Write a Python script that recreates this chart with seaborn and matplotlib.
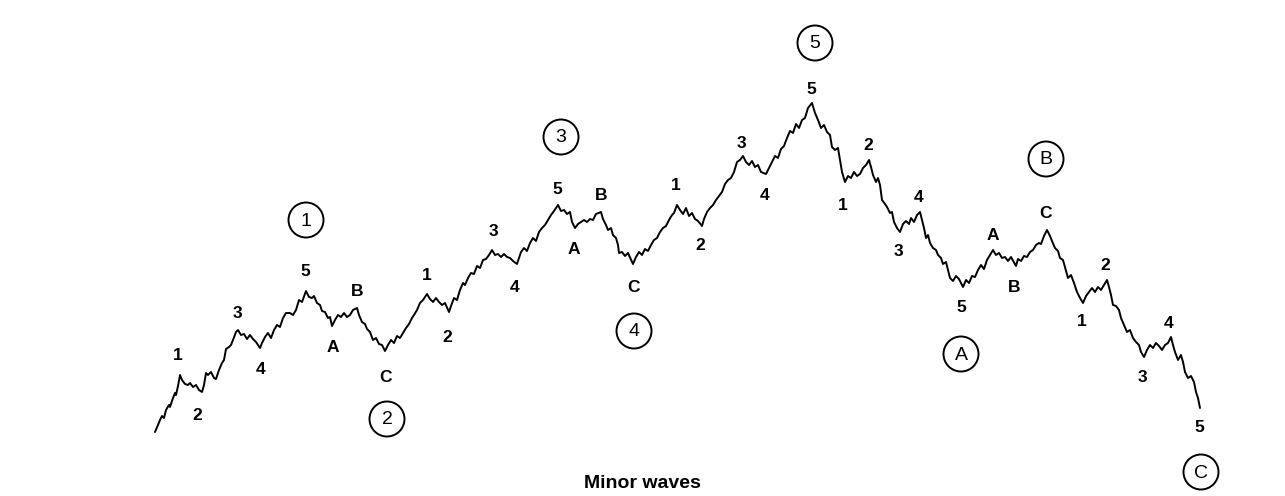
import pandas as pd
import matplotlib.pyplot as plt
import matplotlib.patches as mpatches
import seaborn as sns

# wave path (x right, y down like the picture)
wave_1 = [(155, 432), (158, 425), (160, 420), (162, 416), (164, 418), (166, 410), (169, 405), (170, 407),
          (173, 398), (175, 393), (176, 395), (178, 386), (180, 375),
          (182, 380), (185, 384), (188, 385), (190, 383), (193, 387), (196, 385), (199, 390), (202, 392),
          (204, 385), (206, 373), (208, 375), (211, 372), (214, 378), (216, 379), (219, 370), (222, 363),
          (224, 360), (226, 349), (229, 347), (231, 345), (233, 340), (236, 332), (238, 330),
          (241, 335), (244, 334), (247, 339), (250, 335), (253, 339), (256, 342), (260, 348),
          (262, 343), (265, 337), (268, 333), (271, 338), (274, 330), (277, 325), (280, 327), (283, 318),
          (286, 313), (290, 313), (293, 315), (296, 310), (299, 300), (302, 302), (306, 291)]
wave_2 = [(309, 297), (312, 298), (314, 296), (317, 303), (320, 305), (322, 311), (325, 312), (328, 318),
          (330, 317), (332, 326),
          (335, 320), (338, 315), (341, 317), (344, 313), (347, 317), (350, 315), (353, 310), (357, 308),
          (359, 315), (362, 322), (365, 324), (367, 329), (370, 332), (373, 340), (376, 338), (379, 344),
          (382, 345), (385, 351)]
wave_3 = [(388, 345), (391, 340), (394, 343), (397, 336), (400, 338), (403, 333), (406, 328), (409, 324),
          (412, 318), (414, 315), (417, 310), (420, 303), (423, 300), (427, 294),
          (430, 299), (433, 302), (436, 298), (439, 302), (442, 305), (445, 303), (449, 312),
          (451, 306), (454, 298), (457, 300), (460, 290), (463, 283), (465, 285), (468, 278), (471, 273),
          (474, 274), (477, 266), (480, 268), (483, 260), (486, 259), (489, 255), (492, 250),
          (495, 255), (498, 254), (501, 257), (504, 254), (507, 257), (510, 258), (513, 261), (517, 264),
          (519, 258), (521, 252), (524, 248), (527, 251), (530, 243), (533, 238), (536, 241), (539, 232),
          (542, 228), (545, 225), (548, 220), (551, 215), (554, 211), (558, 205)]
wave_4 = [(561, 211), (564, 210), (567, 214), (570, 212), (572, 222), (575, 228),
          (578, 224), (581, 222), (584, 220), (587, 222), (590, 219), (593, 220), (596, 214), (601, 212),
          (603, 219), (606, 225), (608, 230), (611, 228), (613, 235), (616, 238), (618, 245), (619, 253),
          (622, 252), (625, 256), (628, 253), (633, 264)]
wave_5 = [(636, 257), (639, 252), (642, 255), (645, 249), (648, 251), (651, 245), (654, 240), (657, 238),
          (660, 232), (663, 228), (666, 226), (669, 220), (672, 215), (674, 213), (677, 205),
          (680, 210), (683, 214), (686, 208), (689, 216), (692, 213), (695, 219), (698, 221), (702, 226),
          (704, 219), (707, 212), (710, 208), (713, 205), (716, 200), (719, 196), (722, 192), (725, 184),
          (728, 180), (731, 178), (734, 172), (737, 162), (740, 160), (743, 156),
          (746, 162), (749, 165), (752, 161), (755, 167), (758, 165), (761, 172), (766, 174),
          (769, 168), (772, 162), (775, 156), (778, 158), (781, 149), (784, 146), (787, 138), (790, 131),
          (793, 133), (796, 124), (799, 128), (802, 120), (805, 118), (808, 108), (812, 103)]
wave_a = [(815, 113), (818, 120), (821, 128), (824, 125), (827, 132), (830, 135), (832, 147), (835, 150),
          (838, 148), (840, 160), (842, 172), (845, 182),
          (848, 176), (851, 178), (854, 172), (857, 176), (860, 174), (863, 168), (866, 165), (869, 160),
          (871, 167), (873, 175), (876, 182), (878, 178), (880, 185), (882, 200), (885, 204), (887, 207),
          (890, 213), (892, 212), (894, 222), (897, 228), (900, 232),
          (903, 224), (906, 221), (909, 224), (911, 218), (914, 222), (917, 215), (920, 212),
          (922, 220), (924, 228), (926, 238), (928, 235), (930, 243), (933, 248), (936, 250), (938, 255),
          (941, 258), (943, 264), (946, 262), (948, 270), (950, 278), (953, 281), (956, 276), (959, 279),
          (963, 287)]
wave_b = [(966, 280), (969, 283), (972, 276), (975, 277), (978, 270), (981, 265), (984, 269), (987, 260),
          (990, 255), (993, 250),
          (996, 255), (999, 253), (1002, 258), (1005, 257), (1008, 261), (1011, 257), (1016, 266),
          (1018, 259), (1021, 261), (1024, 256), (1027, 257), (1030, 252), (1033, 250), (1036, 245),
          (1039, 243), (1041, 244), (1044, 236), (1047, 230)]
wave_c = [(1050, 236), (1052, 241), (1055, 248), (1058, 251), (1060, 258), (1063, 260), (1066, 271),
          (1068, 278), (1071, 275), (1074, 283), (1077, 292), (1080, 298), (1083, 303),
          (1086, 296), (1089, 292), (1092, 288), (1095, 292), (1098, 287), (1101, 290), (1104, 285), (1107, 280),
          (1109, 287), (1111, 295), (1113, 305), (1116, 306), (1119, 310), (1121, 318), (1124, 325),
          (1127, 332), (1130, 330), (1133, 338), (1136, 342), (1139, 345), (1141, 352), (1144, 357),
          (1147, 350), (1150, 345), (1153, 348), (1156, 343), (1159, 346), (1162, 350), (1165, 345),
          (1168, 343), (1171, 337),
          (1173, 345), (1175, 352), (1178, 360), (1181, 355), (1183, 362), (1185, 372), (1188, 378),
          (1191, 376), (1194, 382), (1196, 392), (1198, 398), (1200, 408)]

# minor wave labels (text, x, y)
minor_labels = [("1", 178, 355), ("2", 197, 416), ("3", 237, 313), ("4", 261, 369), ("5", 305, 272),
                ("A", 333, 348), ("B", 357, 292), ("C", 385, 377),
                ("1", 427, 276), ("2", 447, 337), ("3", 493, 232), ("4", 515, 288), ("5", 557, 189),
                ("A", 574, 250), ("B", 601, 196), ("C", 633, 288),
                ("1", 676, 186), ("2", 700, 246), ("3", 741, 143), ("4", 765, 195), ("5", 811, 89),
                ("1", 843, 206), ("2", 868, 146), ("3", 898, 252), ("4", 919, 198), ("5", 961, 307),
                ("A", 993, 235), ("B", 1014, 287), ("C", 1046, 213),
                ("1", 1082, 322), ("2", 1105, 265), ("3", 1142, 377), ("4", 1169, 323), ("5", 1199, 428)]

# circled major wave labels (text, x, y)
major_labels = [("1", 306, 220), ("2", 387, 419), ("3", 561, 137), ("4", 634, 331), ("5", 815, 43),
                ("A", 961, 354), ("B", 1046, 159), ("C", 1201, 472)]

sns.set_theme(style="white")
plt.rcParams["font.family"] = ["Liberation Sans", "DejaVu Sans"]

points = wave_1 + wave_2 + wave_3 + wave_4 + wave_5 + wave_a + wave_b + wave_c
df = pd.DataFrame(points, columns=["x", "y"])

fig = plt.figure(figsize=(12.85, 4.96), dpi=100)
ax = fig.add_axes([0, 0, 1, 1])
sns.lineplot(data=df, x="x", y="y", sort=False, estimator=None, color="black", linewidth=1.4, ax=ax)

for txt, x, y in minor_labels:
    ax.text(x, y, txt, ha="center", va="center", fontsize=12.5, fontweight="bold", color="black")

for txt, x, y in major_labels:
    ax.add_patch(mpatches.Circle((x, y), 17.5, fill=False, edgecolor="black", linewidth=1.4))
    ax.text(x, y + 1, txt, ha="center", va="center", fontsize=14, color="black")

ax.text(642, 484, "Minor waves", ha="center", va="center", fontsize=14, fontweight="bold", color="black")

ax.set_xlim(0, 1285)
ax.set_ylim(496, 0)
ax.set_aspect("equal")
ax.axis("off")

fig.savefig("out.png", dpi=100)
